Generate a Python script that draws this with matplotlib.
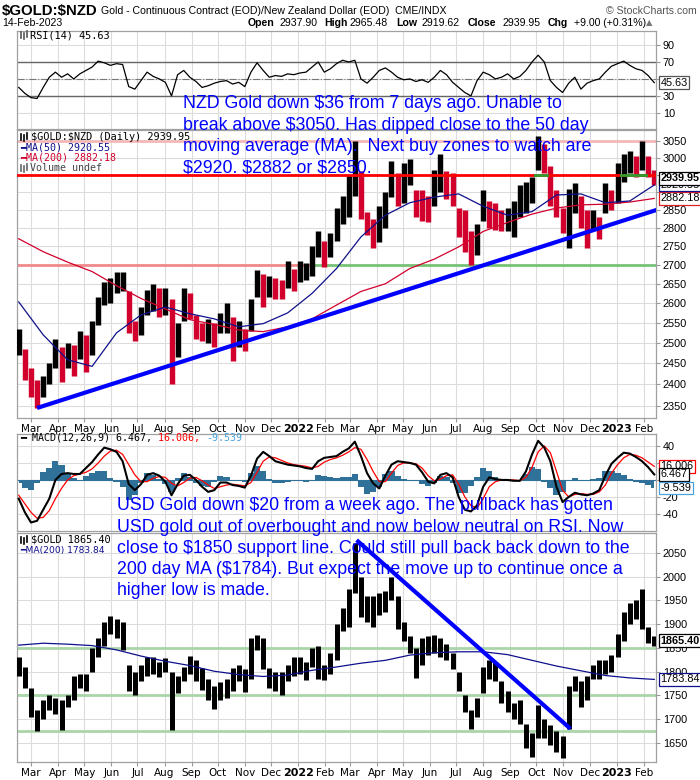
import matplotlib
matplotlib.use("Agg")
import matplotlib.pyplot as plt
import matplotlib.transforms as mtrans
from matplotlib.lines import Line2D
import numpy as np
import pandas as pd

plt.rcParams['font.family'] = ['Liberation Sans', 'DejaVu Sans']
plt.rcParams['text.parse_math'] = False

# ---------------- data (weekly samples) ----------------
week_start = "2021-02-15"
n_weeks = 105
weeks = pd.date_range(week_start, periods=n_weeks, freq="7D")
ma_dates = weeks[::4]

nzd_high = [2535, 2485, 2440, 2410, 2420, 2450, 2510, 2490, 2500, 2495,
            2530, 2520, 2555, 2615, 2655, 2665, 2680, 2680, 2630, 2555,
            2590, 2635, 2650, 2640, 2640, 2610, 2550, 2640, 2625, 2570,
            2550, 2560, 2550, 2575, 2600, 2565, 2555, 2535, 2610, 2685,
            2675, 2670, 2665, 2660, 2710, 2690, 2710, 2705, 2750, 2790,
            2765, 2785, 2855, 2890, 2950, 3050, 2960, 2845, 2825, 2860,
            2900, 2990, 2955, 2985, 2995, 2905, 2905, 2890, 2965, 3010,
            2960, 2955, 2855, 2850, 2790, 2810, 2905, 2875, 2870, 2850,
            2855, 2875, 2920, 2930, 2945, 3065, 3040, 2975, 2905, 2855,
            2910, 2925, 2890, 2850, 2850, 2830, 2925, 2905, 2985, 3010,
            3020, 3005, 3050, 3005, 2965]
nzd_low = [2470, 2410, 2370, 2345, 2370, 2400, 2440, 2405, 2440, 2420,
           2460, 2430, 2470, 2545, 2595, 2600, 2625, 2630, 2525, 2505,
           2520, 2570, 2580, 2565, 2570, 2400, 2465, 2555, 2560, 2510,
           2505, 2500, 2490, 2525, 2525, 2455, 2490, 2480, 2530, 2615,
           2590, 2615, 2610, 2610, 2640, 2630, 2655, 2660, 2670, 2720,
           2695, 2720, 2765, 2810, 2830, 2890, 2825, 2780, 2745, 2760,
           2800, 2885, 2860, 2870, 2920, 2830, 2820, 2815, 2860, 2900,
           2880, 2860, 2775, 2735, 2700, 2725, 2820, 2800, 2795, 2790,
           2790, 2775, 2830, 2840, 2870, 2965, 2955, 2860, 2830, 2785,
           2745, 2840, 2800, 2745, 2795, 2770, 2840, 2850, 2870, 2930,
           2955, 2945, 2965, 2945, 2920]
nzd_ma50 = [2603, 2520, 2459, 2443, 2525, 2570, 2590, 2573, 2560, 2540,
            2548, 2575, 2625, 2690, 2775, 2835, 2870, 2886, 2895, 2860,
            2835, 2845, 2892, 2895, 2870, 2875, 2920.55]
nzd_ma200 = [2770, 2735, 2707, 2682, 2645, 2612, 2585, 2558, 2546, 2532,
             2528, 2540, 2560, 2595, 2630, 2650, 2690, 2715, 2748, 2790,
             2815, 2838, 2855, 2864, 2866, 2872, 2882.18]

rsi = [40, 33, 28, 27, 40, 52, 58, 52, 56, 50,
       56, 60, 64, 71, 69, 66, 68, 67, 41, 38,
       48, 58, 53, 50, 46, 30, 55, 60, 52, 47,
       40, 42, 45, 47, 48, 44, 46, 41, 58, 69,
       60, 52, 54, 53, 56, 55, 57, 58, 64, 70,
       58, 62, 68, 72, 70, 72, 50, 45, 52, 60,
       63, 58, 52, 49, 50, 47, 49, 46, 52, 60,
       55, 46, 40, 34, 30, 48, 58, 55, 50, 52,
       56, 50, 53, 60, 70, 78, 70, 48, 40, 34,
       45, 52, 38, 45, 48, 50, 58, 65, 68, 71,
       66, 62, 60, 54, 45.63]

macd = [-22, -38, -50, -48, -35, -22, 0, 7, 8, 7,
        7, 14, 21, 30, 38, 36, 33, 22, -5, -12,
        -5, 6, 8, 5, -2, -18, -5, 5, 6, 0,
        -8, -14, -12, -3, -3, -6, -7, -9, 5, 25,
        33, 28, 22, 20, 18, 17, 16, 14, 13, 22,
        26, 27, 28, 33, 37, 45, 28, 8, -4, -10,
        5, 18, 22, 21, 20, 18, 9, -2, -4, 6,
        8, 3, -20, -35, -37, -30, -8, 3, 1, 0,
        0, -1, -1, 10, 30, 46, 38, 22, -8, -26,
        -20, -15, -17, -18, -16, -12, 5, 19, 26, 32,
        31, 27, 22, 15, 6.467]
signal = [-18, -28, -38, -45, -44, -36, -22, -10, 0, 5,
          7, 9, 13, 20, 28, 34, 35, 30, 18, 6,
          -2, -2, 2, 4, 3, -4, -7, -3, 2, 3,
          -1, -6, -10, -8, -6, -5, -6, -7, -3, 9,
          22, 27, 26, 23, 20, 18, 17, 16, 14, 16,
          21, 24, 26, 29, 33, 38, 36, 24, 10, -2,
          -2, 8, 17, 20, 20, 19, 14, 5, -1, 1,
          5, 6, -5, -20, -30, -33, -22, -8, -2, 0,
          0, 0, -1, 3, 15, 33, 40, 32, 10, -12,
          -20, -17, -16, -17, -17, -14, -6, 8, 18, 26,
          30, 29, 26, 21, 16.006]

usd_high = [1830, 1810, 1765, 1720, 1740, 1750, 1745, 1740, 1750, 1790,
            1795, 1795, 1850, 1870, 1905, 1918, 1912, 1905, 1815, 1800,
            1815, 1832, 1830, 1820, 1828, 1800, 1792, 1810, 1834, 1825,
            1808, 1785, 1770, 1778, 1785, 1808, 1815, 1805, 1870, 1877,
            1870, 1808, 1800, 1800, 1815, 1830, 1832, 1820, 1850, 1855,
            1815, 1840, 1900, 1935, 1975, 2070, 2000, 1960, 1960, 1965,
            1970, 2000, 1960, 1905, 1875, 1850, 1870, 1875, 1878, 1870,
            1858, 1840, 1800, 1750, 1720, 1745, 1810, 1825, 1820, 1780,
            1760, 1735, 1740, 1690, 1670, 1730, 1700, 1688, 1675, 1665,
            1770, 1790, 1780, 1790, 1815, 1825, 1825, 1835, 1880, 1925,
            1945, 1950, 1975, 1895, 1875]
usd_low = [1790, 1765, 1705, 1675, 1700, 1720, 1710, 1677, 1725, 1740,
           1765, 1760, 1800, 1830, 1855, 1880, 1870, 1845, 1760, 1752,
           1780, 1790, 1795, 1788, 1800, 1677, 1755, 1780, 1795, 1780,
           1762, 1740, 1722, 1740, 1745, 1760, 1780, 1758, 1785, 1845,
           1805, 1765, 1760, 1752, 1780, 1790, 1795, 1782, 1810, 1785,
           1782, 1795, 1825, 1885, 1895, 1965, 1915, 1905, 1895, 1920,
           1925, 1950, 1890, 1865, 1840, 1787, 1815, 1835, 1840, 1830,
           1825, 1805, 1760, 1715, 1680, 1705, 1755, 1785, 1780, 1735,
           1715, 1700, 1690, 1640, 1620, 1660, 1660, 1645, 1630, 1618,
           1680, 1760, 1725, 1740, 1785, 1785, 1795, 1800, 1830, 1865,
           1900, 1910, 1890, 1860, 1855]
usd_ma200 = [1856, 1860, 1858, 1855, 1846, 1833, 1822, 1813, 1801, 1794,
             1790, 1793, 1803, 1810, 1818, 1824, 1835, 1840, 1842, 1842,
             1836, 1824, 1812, 1802, 1792, 1787, 1783.84]

nzd_trend_dates = ["2021-03-08", "2023-02-16"]
nzd_trend_vals = [2345, 2850]
usd_trend_dates = ["2022-03-09", "2022-11-09"]
usd_trend_vals = [2077, 1680]
usd_support = [1850, 1752, 1675]

# ---------------- layout ----------------
W, H = 700, 780
fig = plt.figure(figsize=(7, 7.8), dpi=100)
fig.patch.set_facecolor("white")


def rect(top, bottom, left=17, right=656):
    return [left / W, 1 - bottom / H, (right - left) / W, (bottom - top) / H]


ax_rsi = fig.add_axes(rect(31, 129))
ax_px = fig.add_axes(rect(130, 418))
ax_macd = fig.add_axes(rect(434, 531))
ax_usd = fig.add_axes(rect(533, 762))

x0, x1 = pd.Timestamp("2021-02-13"), pd.Timestamp("2023-02-15")
months = pd.date_range("2021-03-01", "2023-02-01", freq="MS")
mlabels = [str(d.year) if d.month == 1 else d.strftime("%b") for d in months]
GRID = "#DCDCDC"
RED = "#D2002C"
NAVY = "#10108C"


def style(ax, yticks, ylabels, show_x=False):
    ax.set_xlim(x0, x1)
    ax.set_xticks(months)
    ax.set_yticks(yticks)
    ax.set_yticklabels(ylabels)
    ax.minorticks_off()
    ax.grid(True, color=GRID, lw=0.8, zorder=0)
    ax.set_axisbelow(True)
    ax.yaxis.tick_right()
    ax.tick_params(axis="y", labelsize=7.8, length=3, color="#999999", pad=2)
    for s in ax.spines.values():
        s.set_color("#A0A0A0")
        s.set_linewidth(0.9)
    if show_x:
        ax.set_xticklabels(mlabels)
        ax.tick_params(axis="x", labelsize=7.5, length=3, color="#999999", pad=1.5)
        for lab, d in zip(ax.get_xticklabels(), months):
            lab.set_family(["DejaVu Sans"])
            if d.month == 1:
                lab.set_fontweight("bold")
                lab.set_fontsize(8)
    else:
        ax.tick_params(axis="x", labelbottom=False, length=0)


def vbox(ax, y, text, ec, bold=False):
    tr = mtrans.blended_transform_factory(ax.transAxes, ax.transData)
    ax.text(1.007, y, text, transform=tr, va="center", ha="left", fontsize=7.8,
            fontweight="bold" if bold else "normal", zorder=20, clip_on=False,
            bbox=dict(boxstyle="square,pad=0.12", fc="white", ec=ec, lw=0.9))


mono = ["DejaVu Sans Mono"]


def ftext(x, y, s, **kw):
    fig.text(x / W, 1 - y / H, s, parse_math=False, **kw)


# ---------------- RSI ----------------
ax_rsi.set_ylim(-9, 106.5)
style(ax_rsi, [10, 30, 50, 70, 90], ["10", "30", "", "70", "90"])
ax_rsi.axhline(70, color="#666666", lw=1.0, zorder=2)
ax_rsi.axhline(30, color="#666666", lw=1.0, zorder=2)
ax_rsi.axhline(50, color="#777777", lw=0.8, ls="-.", zorder=2)
ax_rsi.plot(weeks, rsi, color="black", lw=0.9, zorder=3)
vbox(ax_rsi, rsi[-1], f"{rsi[-1]:.2f}", "#555555")

# ---------------- NZD price ----------------
ax_px.set_yscale("log")
ax_px.set_ylim(2322, 3083)
pticks = list(range(2350, 3051, 50))
plabels = ["" if t in (2900, 2950) else str(t) for t in pticks]
style(ax_px, pticks, plabels, show_x=True)
ax_px.axhline(3050, color="#F4B8B8", lw=2, zorder=1)
split = pd.Timestamp("2022-01-17")
ax_px.plot([x0, split], [2700, 2700], color="#F08A8A", lw=2, zorder=1)
ax_px.plot([split, x1], [2700, 2700], color="#77C277", lw=2, zorder=1)
ax_px.axhline(2950, color="#FF0000", lw=2, zorder=4)
for a, b in [("2022-09-29", "2022-10-13"), ("2023-01-06", "2023-02-04")]:
    ax_px.plot([pd.Timestamp(a), pd.Timestamp(b)], [2950, 2950], color="#2E9E2E", lw=2, zorder=5)

mid = (np.array(nzd_high) + np.array(nzd_low)) / 2
cols = ["black" if i == 0 or mid[i] >= mid[i - 1] else RED for i in range(len(mid))]
ax_px.vlines(weeks, nzd_low, nzd_high, colors=cols, lw=3.9, zorder=3)
ax_px.plot(ma_dates, nzd_ma200, color=RED, lw=0.9, zorder=3)
ax_px.plot(ma_dates, nzd_ma50, color=NAVY, lw=0.9, zorder=3)
ax_px.plot(pd.to_datetime(nzd_trend_dates), nzd_trend_vals, color="#0000FF", lw=3, zorder=6,
           solid_capstyle="butt")
vbox(ax_px, nzd_ma200[-1], f"{nzd_ma200[-1]:.2f}", "#E02020")
vbox(ax_px, nzd_ma50[-1], f"{nzd_ma50[-1]:.2f}", NAVY)
vbox(ax_px, 2939.95, "2939.95", "black", bold=True)

# ---------------- MACD ----------------
ax_macd.set_ylim(-60, 54)
style(ax_macd, [-40, -20, 0, 20, 40], ["-40", "-20", "", "", "40"])
hist = np.array(macd) - np.array(signal)
ax_macd.fill_between(weeks, 0, hist, color="#2F7199", lw=0, zorder=2, step="mid")
ax_macd.axhline(0, color="#2F7199", lw=0.8, zorder=2)
ax_macd.plot(weeks, signal, color="#FF0000", lw=0.9, zorder=3)
ax_macd.plot(weeks, macd, color="black", lw=1.5, zorder=4)
vbox(ax_macd, signal[-1], f"{signal[-1]:.3f}", "#FF0000")
vbox(ax_macd, macd[-1], f"{macd[-1]:.3f}", "black")
vbox(ax_macd, hist[-1], f"{hist[-1]:.3f}", "#4AA3DF")

# ---------------- USD gold ----------------
ax_usd.set_ylim(1610, 2092)
uticks = list(range(1650, 2051, 50))
style(ax_usd, uticks, [str(t) for t in uticks], show_x=True)
for v in usd_support:
    ax_usd.axhline(v, color="#A9D5A9", lw=2, zorder=1)
ax_usd.vlines(weeks, usd_low, usd_high, colors="black", lw=3.6, zorder=3)
ax_usd.plot(ma_dates, usd_ma200, color=NAVY, lw=0.9, zorder=3)
ax_usd.plot(pd.to_datetime(usd_trend_dates), usd_trend_vals, color="#0000FF", lw=3, zorder=6,
            solid_capstyle="butt")
vbox(ax_usd, usd_ma200[-1], f"{usd_ma200[-1]:.2f}", NAVY)
vbox(ax_usd, 1865.40, "1865.40", "black", bold=True)

# ---------------- header texts ----------------
ftext(2, 11, "$GOLD:$NZD", fontsize=10.8, fontweight="bold", va="center")
ftext(101, 11, "Gold - Continuous Contract (EOD)/New Zealand Dollar (EOD)  CME/INDX",
      fontsize=7.6, va="center")
ftext(697, 11, "© StockCharts.com", fontsize=7.6, va="center", ha="right", color="#555555")
ftext(2, 23, "14-Feb-2023", fontsize=7.6, va="center")
hdr = [(248, "Open", True), (279, "2937.90", False), (324, "High", True), (350, "2965.48", False),
       (396, "Low", True), (421, "2919.62", False), (468, "Close", True), (502, "2939.95", False),
       (548, "Chg", True), (574, "+9.00 (+0.31%)", False)]
for x, s, b in hdr:
    ftext(x, 23, s, fontsize=7.6, va="center", fontweight="bold" if b else "normal")
ftext(646, 23, "▲", fontsize=6, va="center", color="#777777", family=["DejaVu Sans"])


# ---------------- panel legends ----------------
def icon(x, y, color="black"):
    for dx, (a, b) in zip([0, 3, 6], [(-3, 3), (-2, 4), (-4, 2)]):
        fig.add_artist(Line2D([(x + dx) / W] * 2, [1 - (y + a) / H, 1 - (y + b) / H],
                              color=color, lw=1.2))


icon(21, 35, "#555555")
ftext(30, 35, "RSI(14) 45.63", fontsize=7.4, family=mono, va="center")
icon(21, 137)
ftext(31, 137, "$GOLD:$NZD (Daily) 2939.95", fontsize=7.4, family=mono, va="center")
ftext(20, 148, "━MA(50) 2920.55", fontsize=7.2, family=mono, va="center", color=NAVY)
ftext(20, 158, "━MA(200) 2882.18", fontsize=7.2, family=mono, va="center", color=RED)
icon(21, 168, "#666666")
ftext(30, 168, "Volume undef", fontsize=7.2, family=mono, va="center", color="#444444")

cw = 6.0
mx = 20
parts = [("━ MACD(12,26,9) 6.467, ", "black"), ("16.006, ", "#FF0000"), ("-9.539", "#4AA3DF")]
for s, c in parts:
    ftext(mx, 438, s, fontsize=7.2, family=mono, va="center", color=c)
    mx += cw * len(s)

icon(21, 540)
ftext(31, 540, "$GOLD 1865.40", fontsize=7.4, family=mono, va="center")
ftext(20, 551, "━MA(200) 1783.84", fontsize=6.6, va="center", color=NAVY,
      family=["DejaVu Sans"])

# ---------------- blue annotations ----------------
nzd_note = ["NZD Gold down $36 from 7 days ago. Unable to",
            "break above $3050. Has dipped close to the 50 day",
            "moving average (MA).  Next buy zones to watch are",
            "$2920. $2882 or $2850."]
for i, line in enumerate(nzd_note):
    ftext(183, 104 + 21.3 * i, line, fontsize=12.8, color="#0000FF", va="center", zorder=30)

usd_note = ["USD Gold down $20 from a week ago. The pullback has gotten",
            "USD gold out of overbought and now below neutral on RSI. Now",
            "close to $1850 support line. Could still pull back back down to the",
            "200 day MA ($1784). But expect the move up to continue once a",
            "higher low is made."]
for i, line in enumerate(usd_note):
    ftext(117, 506 + 21.2 * i, line, fontsize=12.8, color="#0000FF", va="center", zorder=30)

fig.savefig("out.png", dpi=100)
